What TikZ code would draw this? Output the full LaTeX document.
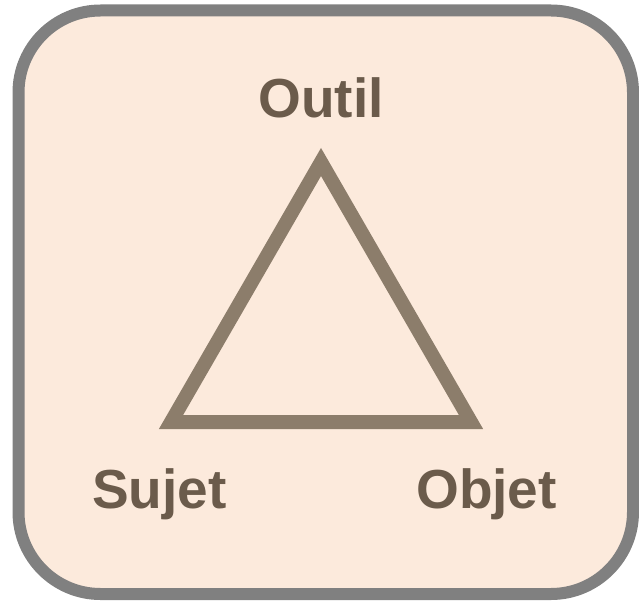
\documentclass[tikz,border=0pt]{standalone}
\usepackage{fontspec}
\setmainfont{Liberation Sans}
\definecolor{bgfill}{HTML}{FCEADC}
\definecolor{frame}{HTML}{808080}
\definecolor{tri}{HTML}{8C7D6B}
\definecolor{txt}{HTML}{6B5B4B}
\begin{document}
\begin{tikzpicture}[x=1pt,y=-1pt,
  label/.style={font=\fontsize{55}{62}\selectfont\bfseries, text=txt, anchor=base, inner sep=0pt}]
\useasboundingbox (0,0) rectangle (639,604);
\draw[frame, line width=12pt, fill=bgfill, rounded corners=82pt] (18.5,10.5) rectangle (633,594);
\coordinate (top) at (321,162);
\coordinate (left) at (171,422);
\coordinate (right) at (471,422);
\draw[tri, line width=14pt, miter limit=10] (top) -- (left) -- (right) -- cycle;
\node[label] (outil) at (321,118) {Outil};
\node[label] (sujet) at (159.5,508) {Sujet};
\node[label] (objet) at (486.5,508) {Objet};
\end{tikzpicture}
\end{document}
